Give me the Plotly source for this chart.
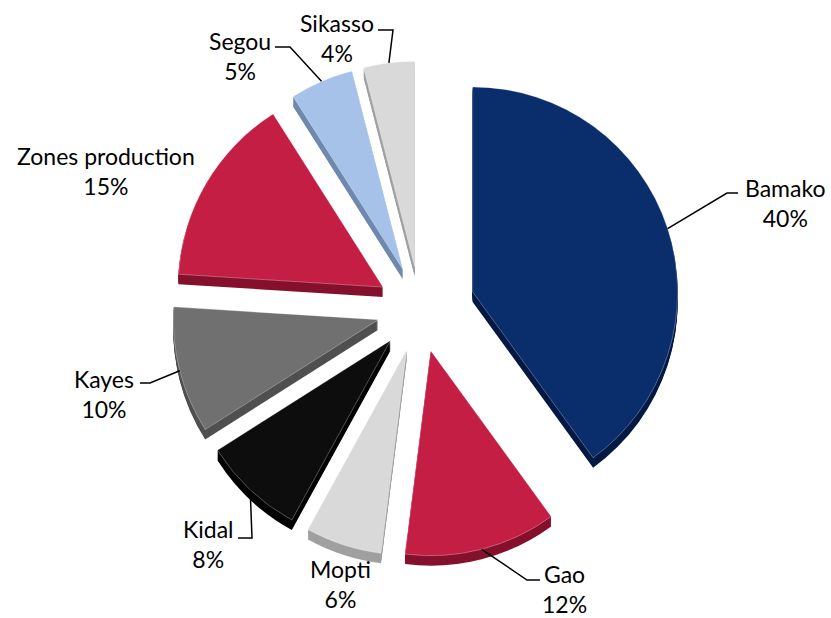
import numpy as np
import plotly.graph_objects as go

# ---- data -------------------------------------------------------------
regions = ["Bamako", "Gao", "Mopti", "Kidal", "Kayes",
           "Zones production", "Segou", "Sikasso"]
shares = [40, 12, 6, 8, 10, 15, 5, 4]

# ---- styling ----------------------------------------------------------
top_colors = ["#0A2D6C", "#C41E45", "#D9D9D9", "#0D0D0D",
              "#707070", "#C41E45", "#A6C2E8", "#D9D9D9"]
side_colors = ["#051A45", "#85112D", "#A0A0A0", "#000000",
               "#505050", "#85112D", "#6F89AE", "#A0A0A0"]
pulls = [0.27, 0.21, 0.21, 0.21, 0.21, 0.21, 0.21, 0.21]

W, H = 831, 618
CX, CY, R = 420, 309, 205      # pie centre / radius (px)
DEPTH = 10                     # extrusion thickness (px)
FONT = dict(family="Lato, Carlito, sans-serif", size=23, color="#000000")

# label centres (px) and label-side leader points (px)
label_pos = {
    "Bamako": (785, 203), "Gao": (564, 589), "Mopti": (340, 584),
    "Kidal": (208, 544), "Kayes": (104, 394), "Zones production": (106, 171),
    "Segou": (240, 56), "Sikasso": (337, 38),
}
leader_pts = {
    "Bamako": [(738, 193), (727, 193)],
    "Gao": [(540, 580), (527, 580)],
    "Kidal": [(238, 538), (252, 538)],
    "Kayes": [(140, 383), (150, 383)],
    "Segou": [(275, 47), (290, 47)],
    "Sikasso": [(378, 30), (393, 30)],
}

half = R * (1 + max(pulls))
xdom = [(CX - half) / W, (CX + half) / W]


def ydom(shift):
    return [1 - (CY + half + shift) / H, 1 - (CY - half + shift) / H]


def paper(x, y):
    return x / W, 1 - y / H


fig = go.Figure()

# darker copies stacked downwards give the slices their thickness
for k in range(DEPTH, 0, -1):
    fig.add_trace(go.Pie(
        labels=regions, values=shares, sort=False, direction="clockwise",
        rotation=0, pull=pulls, textinfo="none", hoverinfo="skip",
        showlegend=False,
        marker=dict(colors=side_colors, line=dict(width=0)),
        domain=dict(x=xdom, y=ydom(k)),
    ))

# top faces
fig.add_trace(go.Pie(
    labels=regions, values=shares, sort=False, direction="clockwise",
    rotation=0, pull=pulls, textinfo="none", showlegend=False,
    marker=dict(colors=top_colors, line=dict(color="rgba(255,255,255,0.6)", width=0.5)),
    domain=dict(x=xdom, y=ydom(0)),
))

# labels and leader lines, anchored on each slice's outer rim
vals = np.array(shares, dtype=float)
total = vals.sum()
cum = np.cumsum(vals)
annotations, shapes = [], []
for i, name in enumerate(regions):
    mid = np.deg2rad((cum[i] - vals[i] / 2) / total * 360)
    rr = (1 + pulls[i]) * R
    ax, ay = CX + rr * np.sin(mid), CY - rr * np.cos(mid)
    pct = f"{vals[i] / total * 100:.0f}%"
    lx, ly = paper(*label_pos[name])
    annotations.append(dict(
        x=lx, y=ly, xref="paper", yref="paper", text=f"{name}<br>{pct}",
        showarrow=False, xanchor="center", yanchor="middle", font=FONT,
    ))
    if name in leader_pts:
        pts = leader_pts[name] + [(ax, ay)]
        path = ""
        for j, (px, py) in enumerate(pts):
            qx, qy = paper(px, py)
            path += ("M" if j == 0 else " L") + f" {qx:.5f} {qy:.5f}"
        shapes.append(dict(type="path", path=path, xref="paper", yref="paper",
                           line=dict(color="#000000", width=1.5)))

fig.update_layout(
    width=W, height=H, margin=dict(l=0, r=0, t=0, b=0),
    paper_bgcolor="white", plot_bgcolor="white",
    annotations=annotations, shapes=shapes,
)

fig.write_html("out.html")
